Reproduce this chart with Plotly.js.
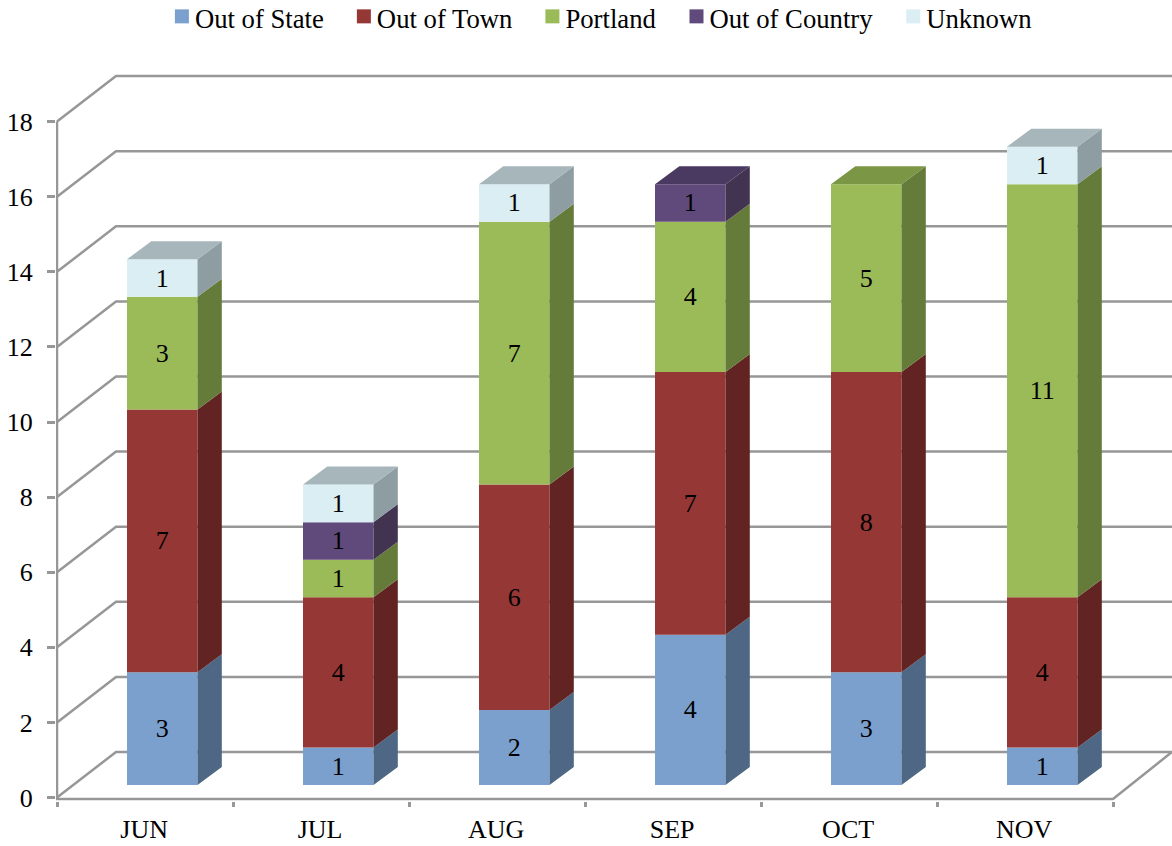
<!DOCTYPE html>
<html>
<head>
<meta charset="utf-8">
<script src="https://cdn.plot.ly/plotly-3.0.1.min.js"></script>
<style>html,body{margin:0;padding:0;background:#fff}#chart{width:1172px;height:846px}</style>
</head>
<body>
<div id="chart"></div>
<script>
const months = ['JUN','JUL','AUG','SEP','OCT','NOV'];
const outOfState   = [3,1,2,4,3,1];
const outOfTown    = [7,4,6,7,8,4];
const portland     = [3,1,7,4,5,11];
const outOfCountry = [0,1,0,1,0,0];
const unknown      = [1,1,1,0,0,1];
const yTicks = [0,2,4,6,8,10,12,14,16,18];

const seriesNames = ['Out of State','Out of Town','Portland','Out of Country','Unknown'];
const seriesValues = [outOfState,outOfTown,portland,outOfCountry,unknown];
const frontColors = ['#7BA0CD','#953735','#9BBB59','#604A7B','#DBEEF4'];
const sideColors  = ['#4D6785','#612423','#657B3A','#423350','#8D9DA2'];
const topColors   = ['#627FA4','#772C2A','#7B9645','#4A3960','#A6B6BB'];
const gridColor = '#979797';
const FONT = 'Liberation Serif, Times New Roman, serif';

// Pixel scale of the axes -> oblique depth expressed in axis units
const PX_X = 176, PX_Y = 37.55;
const wallDx = 59/PX_X, wallDy = 45.5/PX_Y;
const barDx = 24.3/PX_X, barDy = 18/PX_Y;
const barFloor = 12.5/PX_Y;
const barWidth = 70.5/PX_X;
const barCenter = 0.598;
const xMax = 1115/PX_X;
const floorY = -1.5/PX_Y;

const traces = [];
const cum = months.map(()=>barFloor);
const sideX = seriesNames.map(()=>[]), sideY = seriesNames.map(()=>[]);
const topX = seriesNames.map(()=>[]), topY = seriesNames.map(()=>[]);

seriesNames.forEach((name,s)=>{
  const vals = seriesValues[s];
  const base = cum.slice();
  traces.push({
    type:'bar', name:name, orientation:'v',
    x: months.map((m,i)=>i+barCenter),
    y: vals.map(v=>v>0?v:null),
    base: base,
    width: barWidth,
    marker:{color:frontColors[s], line:{width:0}},
    text: vals.map(v=>v>0?String(v):''),
    textposition:'inside', insidetextanchor:'middle', textangle:0,
    constraintext:'none',
    textfont:{family:FONT,size:26,color:'#000'},
    hoverinfo:'name+text'
  });
  vals.forEach((v,i)=>{
    if(v>0){
      const r = i+barCenter+barWidth/2;
      sideX[s].push(r,r+barDx,r+barDx,r,r,null);
      sideY[s].push(base[i],base[i]+barDy,base[i]+v+barDy,base[i]+v,base[i],null);
    }
    cum[i]+=v;
  });
});
// top face: coloured by the highest non-empty series of each bar
months.forEach((m,i)=>{
  let s = seriesNames.length-1;
  while(seriesValues[s][i]===0) s--;
  const l=i+barCenter-barWidth/2, r=i+barCenter+barWidth/2, t=cum[i];
  topX[s].push(l,r,r+barDx,l+barDx,l,null);
  topY[s].push(t,t,t+barDy,t+barDy,t,null);
});
seriesNames.forEach((name,s)=>{
  traces.push({type:'scatter',mode:'lines',x:sideX[s],y:sideY[s],fill:'toself',fillcolor:sideColors[s],
    line:{width:0,color:sideColors[s]},showlegend:false,hoverinfo:'skip'});
  if(topX[s].length) traces.push({type:'scatter',mode:'lines',x:topX[s],y:topY[s],fill:'toself',fillcolor:topColors[s],
    line:{width:0,color:topColors[s]},showlegend:false,hoverinfo:'skip'});
});

// back-wall gridlines, floor and left axis line
const lineStyle = {color:gridColor,width:2.5};
const shapes = yTicks.map(v=>({
  type:'path',layer:'below',xref:'x',yref:'y',line:lineStyle,
  path:`M0,${v}L${wallDx},${v+wallDy}L${xMax},${v+wallDy}`
}));
shapes.push({type:'path',layer:'below',xref:'x',yref:'y',line:lineStyle,
  path:`M0,${yTicks[yTicks.length-1]}L0,${floorY}L${months.length},${floorY}L${xMax},${wallDy}`});

const layout = {
  width:1172,height:846,
  margin:{l:56,r:0,t:70,b:45,pad:0},
  paper_bgcolor:'#fff',plot_bgcolor:'#fff',
  barmode:'overlay',
  showlegend:true,
  legend:{orientation:'h',x:0.4802,xref:'paper',xanchor:'center',y:1,yref:'container',yanchor:'top',itemwidth:38,
    font:{family:FONT,size:26.7,color:'#000'},traceorder:'normal',itemclick:false,itemdoubleclick:false},
  font:{family:FONT,color:'#000'},
  xaxis:{
    range:[-1/PX_X,xMax],showgrid:false,zeroline:false,showline:false,
    tickmode:'array',tickvals:months.map((m,i)=>i+0.495),ticktext:months,ticks:'',
    tickfont:{family:FONT,size:26,color:'#000'},
    minor:{tickmode:'array',tickvals:[0,1,2,3,4,5,6],ticks:'outside',ticklen:5,tickwidth:2.5,tickcolor:gridColor,showgrid:false},
    ticklabelstandoff:10,fixedrange:true
  },
  yaxis:{
    range:[-3.5/PX_Y,(797.5-70)/PX_Y],showgrid:false,zeroline:false,showline:false,
    tickmode:'array',tickvals:yTicks,ticks:'outside',ticklen:8,tickwidth:2.5,tickcolor:gridColor,
    tickfont:{family:FONT,size:26,color:'#000'},ticklabelstandoff:9,fixedrange:true
  },
  shapes:shapes
};
Plotly.newPlot('chart',traces,layout,{displayModeBar:false,responsive:false}).then(()=>{
  // Tighten the legend swatches towards their labels, and size them as in the reference
  document.querySelectorAll('#chart .legend .legendsymbols').forEach(g=>{
    g.setAttribute('transform','translate(35,-1.5) scale(1.167) translate(-24,0)');
  });
  // Raise the legend to the reference's height, above what the container anchor allows
  const lg = document.querySelector('#chart .legend');
  const m = /translate\(\s*([-\d.]+)[ ,]+([-\d.]+)\s*\)/.exec(lg.getAttribute('transform')||'');
  if(m) lg.setAttribute('transform',`translate(${m[1]},${parseFloat(m[2])-6})`);
  const clip = lg.querySelector('.scrollbox');
  if(clip) clip.removeAttribute('clip-path');
});
</script>
</body>
</html>
